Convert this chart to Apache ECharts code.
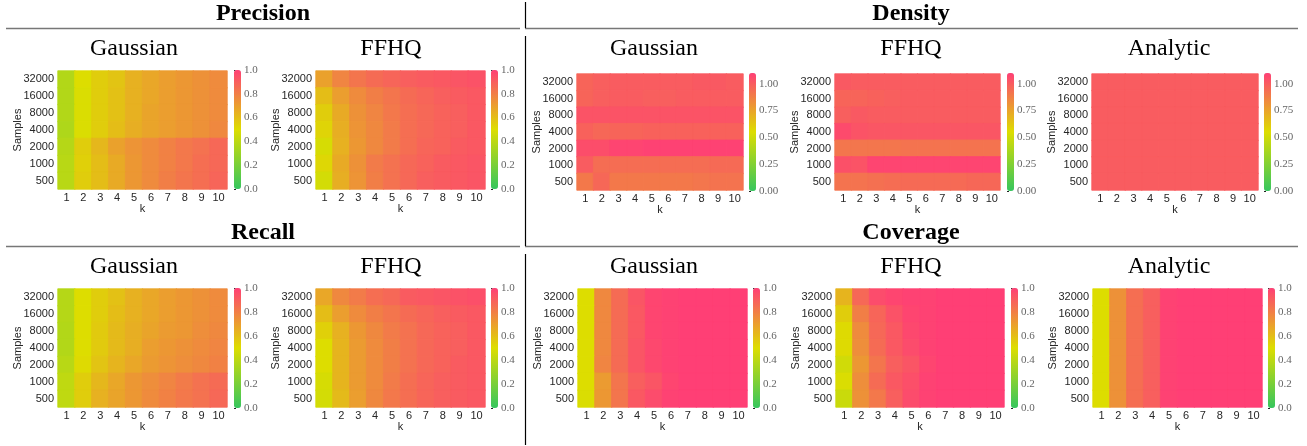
<!DOCTYPE html>
<html>
<head>
<meta charset="utf-8">
<style>html,body{margin:0;padding:0;background:#fff}#c{width:1307px;height:446px}</style>
<script src="https://cdn.jsdelivr.net/npm/echarts@6/dist/echarts.min.js"></script>
</head>
<body>
<div id="c"></div>
<script>
var kLabels = ['1','2','3','4','5','6','7','8','9','10'];
var sampleLabels = ['32000','16000','8000','4000','2000','1000','500'];
var ticks10 = [0,0.2,0.4,0.6,0.8,1.0];
var ticks11 = [0,0.25,0.5,0.75,1.0];

var precisionGaussian = [
 [.37,.50,.55,.58,.64,.67,.70,.72,.74,.76],
 [.37,.49,.55,.59,.64,.67,.70,.72,.74,.76],
 [.37,.49,.55,.59,.64,.68,.70,.72,.74,.76],
 [.36,.49,.55,.60,.65,.68,.70,.72,.74,.77],
 [.38,.55,.62,.69,.73,.76,.79,.82,.84,.87],
 [.39,.54,.60,.66,.72,.76,.79,.82,.85,.87],
 [.39,.55,.60,.66,.72,.76,.80,.83,.85,.88]];
var precisionFFHQ = [
 [.69,.78,.83,.86,.88,.90,.91,.92,.93,.94],
 [.60,.70,.76,.80,.83,.86,.88,.90,.91,.92],
 [.55,.66,.74,.78,.82,.85,.87,.89,.90,.92],
 [.53,.65,.73,.77,.81,.85,.87,.89,.90,.92],
 [.48,.64,.72,.77,.81,.85,.88,.89,.91,.92],
 [.52,.66,.74,.81,.84,.87,.89,.91,.92,.93],
 [.47,.65,.73,.80,.84,.87,.90,.91,.92,.93]];
var densityGaussian = [
 [.97,.99,1.0,1.0,1.0,1.0,1.0,1.01,1.01,1.0],
 [.97,.99,1.0,1.0,.99,.99,1.0,1.0,1.0,1.0],
 [1.03,1.03,1.03,1.03,1.03,1.03,1.03,1.03,1.03,1.03],
 [.98,.96,.97,.97,.98,.98,.98,.98,.98,.98],
 [1.05,1.05,1.08,1.08,1.09,1.09,1.09,1.09,1.09,1.09],
 [1.0,.94,.94,.94,.94,.94,.94,.94,.95,.95],
 [.90,.96,.90,.90,.90,.90,.90,.91,.92,.92]];
var densityFFHQ = [
 [1.01,1.0,1.0,1.0,1.0,1.0,1.0,1.0,1.0,1.0],
 [.97,.97,.98,.99,1.0,1.0,1.0,1.0,1.0,1.0],
 [.99,1.01,1.0,1.0,1.0,1.0,1.0,1.0,1.0,1.0],
 [1.06,1.03,1.02,1.02,1.02,1.02,1.02,1.02,1.02,1.02],
 [.91,.91,.91,.91,.92,.92,.92,.92,.92,.92],
 [1.04,1.03,1.08,1.08,1.08,1.08,1.08,1.08,1.08,1.08],
 [.92,.92,.93,.94,.95,.95,.95,.95,.96,.96]];
var densityAnalytic = [
 [1,1,1,1,1,1,1,1,1,1],[1,1,1,1,1,1,1,1,1,1],[1,1,1,1,1,1,1,1,1,1],[1,1,1,1,1,1,1,1,1,1],
 [1,1,1,1,1,1,1,1,1,1],[1,1,1,1,1,1,1,1,1,1],[1,1,1,1,1,1,1,1,1,1]];
var recallGaussian = [
 [.38,.50,.55,.59,.64,.67,.70,.72,.74,.76],
 [.38,.50,.55,.60,.64,.67,.70,.72,.74,.76],
 [.37,.50,.56,.61,.65,.68,.71,.72,.75,.77],
 [.37,.50,.56,.61,.65,.70,.72,.74,.76,.78],
 [.39,.51,.58,.63,.67,.71,.73,.75,.77,.79],
 [.41,.55,.62,.67,.72,.75,.78,.81,.84,.86],
 [.41,.55,.64,.68,.72,.76,.79,.82,.84,.87]];
var recallFFHQ = [
 [.67,.77,.81,.85,.87,.91,.92,.93,.94,.95],
 [.60,.70,.76,.80,.83,.86,.88,.90,.91,.92],
 [.54,.64,.72,.77,.81,.84,.87,.89,.90,.92],
 [.50,.63,.71,.76,.80,.84,.87,.89,.90,.92],
 [.50,.63,.71,.76,.80,.84,.87,.89,.91,.92],
 [.48,.63,.71,.76,.81,.85,.88,.90,.91,.92],
 [.47,.61,.70,.77,.82,.85,.88,.90,.91,.92]];
var coverageGaussian = [
 [.50,.77,.86,.93,.98,.99,1,1,1,1],
 [.50,.77,.86,.92,.98,.99,1,1,1,1],
 [.50,.77,.86,.92,.98,.99,1,1,1,1],
 [.50,.77,.86,.93,.97,.99,1,1,1,1],
 [.50,.78,.86,.93,.97,.99,1,1,1,1],
 [.50,.71,.83,.90,.93,.98,1,1,1,1],
 [.49,.72,.83,.92,.96,.99,1,1,1,1]];
var coverageFFHQ = [
 [.63,.87,.96,.98,.99,.99,1,1,1,1],
 [.55,.80,.88,.94,.98,.99,1,1,1,1],
 [.51,.76,.87,.92,.97,.99,1,1,1,1],
 [.51,.75,.86,.92,.96,.99,1,1,1,1],
 [.46,.72,.83,.90,.93,.98,1,1,1,1],
 [.49,.75,.86,.92,.95,.99,1,1,1,1],
 [.44,.74,.82,.90,.96,.99,1,1,1,1]];
var coverageAnalytic = [
 [.50,.74,.85,.90,.99,1,1,1,1,1],[.50,.74,.85,.90,.99,1,1,1,1,1],[.50,.74,.85,.90,.99,1,1,1,1,1],
 [.50,.74,.85,.90,.99,1,1,1,1,1],[.50,.74,.85,.90,.99,1,1,1,1,1],[.50,.74,.85,.90,.99,1,1,1,1,1],
 [.50,.74,.85,.90,.99,1,1,1,1,1]];

var ramp = ['#36c65e','#dddd00','#ff3f75'];

var rowA = {y0:71,y1:189,cy0:70,cy1:189}, rowB = {y0:74,y1:190,cy0:73,cy1:191}, rowC = {y0:289,y1:407,cy0:288,cy1:408};
var panels = [
 {t:'Gaussian',data:precisionGaussian,max:1,ticks:ticks10,dec:1,x0:58,x1:227,cb:234,row:rowA,tx:134,ty:49},
 {t:'FFHQ',data:precisionFFHQ,max:1,ticks:ticks10,dec:1,x0:316,x1:485,cb:491,row:rowA,tx:391,ty:49},
 {t:'Gaussian',data:densityGaussian,max:1.1,ticks:ticks11,dec:2,x0:577,x1:743,cb:749,row:rowB,tx:654,ty:49},
 {t:'FFHQ',data:densityFFHQ,max:1.1,ticks:ticks11,dec:2,x0:835,x1:1000,cb:1007,row:rowB,tx:911,ty:49},
 {t:'Analytic',data:densityAnalytic,max:1.1,ticks:ticks11,dec:2,x0:1092,x1:1258,cb:1264,row:rowB,tx:1169,ty:49},
 {t:'Gaussian',data:recallGaussian,max:1,ticks:ticks10,dec:1,x0:58,x1:227,cb:234,row:rowC,tx:134,ty:267},
 {t:'FFHQ',data:recallFFHQ,max:1,ticks:ticks10,dec:1,x0:316,x1:485,cb:491,row:rowC,tx:391,ty:267},
 {t:'Gaussian',data:coverageGaussian,max:1,ticks:ticks10,dec:1,x0:578,x1:747,cb:753,row:rowC,tx:654,ty:267},
 {t:'FFHQ',data:coverageFFHQ,max:1,ticks:ticks10,dec:1,x0:836,x1:1004,cb:1011,row:rowC,tx:911,ty:267},
 {t:'Analytic',data:coverageAnalytic,max:1,ticks:ticks10,dec:1,x0:1093,x1:1262,cb:1268,row:rowC,tx:1169,ty:267}
];
var headers = [{t:'Precision',x:263,y:14},{t:'Density',x:911,y:14},{t:'Recall',x:263,y:233},{t:'Coverage',x:911,y:233}];

var SANS = '"Liberation Sans",Arial,sans-serif', SERIF = '"Liberation Serif","Times New Roman",serif';
var opt = {animation:false,backgroundColor:'#fff',title:[],grid:[],xAxis:[],yAxis:[],series:[],visualMap:[],graphic:[]};

headers.forEach(function(h){
  opt.title.push({text:h.t,left:h.x,top:h.y,textAlign:'center',textVerticalAlign:'middle',padding:0,
    textStyle:{fontFamily:SERIF,fontSize:24,fontWeight:'bold',color:'#000'}});
});
panels.forEach(function(p){
  var r = p.row;
  opt.title.push({text:p.t,left:p.tx,top:p.ty,textAlign:'center',textVerticalAlign:'middle',padding:0,
    textStyle:{fontFamily:SERIF,fontSize:24,fontWeight:'normal',color:'#000'}});
  var g = opt.grid.length;
  opt.grid.push({left:p.x0,top:r.y0,width:p.x1-p.x0,height:r.y1-r.y0,containLabel:false});
  opt.xAxis.push({type:'category',gridIndex:g,data:kLabels,name:'k',nameLocation:'middle',nameGap:14,nameMoveOverlap:false,
    nameTextStyle:{fontFamily:SANS,fontSize:11,color:'#262626'},
    axisLine:{show:false},axisTick:{length:2.5,alignWithLabel:true,lineStyle:{color:'#222',width:1}},
    axisLabel:{fontFamily:SANS,fontSize:11,color:'#262626',margin:3.5,interval:0},splitLine:{show:false},splitArea:{show:false}});
  opt.yAxis.push({type:'category',gridIndex:g,inverse:true,data:sampleLabels,name:'Samples',nameLocation:'middle',nameGap:35,nameMoveOverlap:false,
    nameTextStyle:{fontFamily:SANS,fontSize:11,color:'#262626'},
    axisLine:{show:false},axisTick:{length:2.5,alignWithLabel:true,lineStyle:{color:'#222',width:1}},
    axisLabel:{fontFamily:SANS,fontSize:11,color:'#262626',margin:4,interval:0,padding:[3,0,0,0]},splitLine:{show:false},splitArea:{show:false}});
  var cells = [];
  p.data.forEach(function(row,i){row.forEach(function(v,j){
    cells.push({value:[j,i,v],itemStyle:{borderWidth:0.8,borderColor:echarts.color.lerp(v/p.max,ramp)}});
  });});
  var si = opt.series.length;
  opt.series.push({type:'heatmap',xAxisIndex:g,yAxisIndex:g,data:cells,silent:true,progressive:0});
  opt.visualMap.push({type:'continuous',seriesIndex:si,min:0,max:p.max,calculable:false,realtime:false,
    left:p.cb,top:r.cy0,itemWidth:7,itemHeight:r.cy1-r.cy0,padding:0,text:['',''],showLabel:false,textGap:0,
    inRange:{color:ramp},hoverLink:false,
    textStyle:{fontSize:1,color:'transparent'}});
  var c = opt.grid.length;
  opt.grid.push({left:p.cb,top:r.cy0,width:7,height:r.cy1-r.cy0});
  opt.xAxis.push({type:'value',gridIndex:c,show:false,min:0,max:1});
  opt.yAxis.push({type:'value',gridIndex:c,position:'right',min:0,max:p.max,
    axisLine:{show:false},splitLine:{show:false},
    axisTick:{length:2,customValues:p.ticks,lineStyle:{color:'#222',width:1}},
    axisLabel:{customValues:p.ticks,fontFamily:SERIF,fontSize:11,color:'#666',margin:3,showMinLabel:true,showMaxLabel:true,
      formatter:(function(d){return function(v){return Number(v).toFixed(d);};})(p.dec)}});
});

function seg(x1,y1,x2,y2,color,w){
  return {type:'line',shape:{x1:x1,y1:y1,x2:x2,y2:y2},style:{stroke:color,lineWidth:w},silent:true};
}
[28.5,246.5].forEach(function(y){
  opt.graphic.push(seg(6,y,520,y,'#777',1.6));
  opt.graphic.push(seg(525,y,1298,y,'#777',1.6));
});
opt.graphic.push(seg(525.5,2,525.5,28,'#000',1.2));
opt.graphic.push(seg(525.5,36,525.5,246,'#000',1.2));
opt.graphic.push(seg(525.5,254,525.5,445,'#000',1.2));

var chart = echarts.init(document.getElementById('c'),null,{renderer:'canvas'});
chart.setOption(opt);
</script>
</body>
</html>
